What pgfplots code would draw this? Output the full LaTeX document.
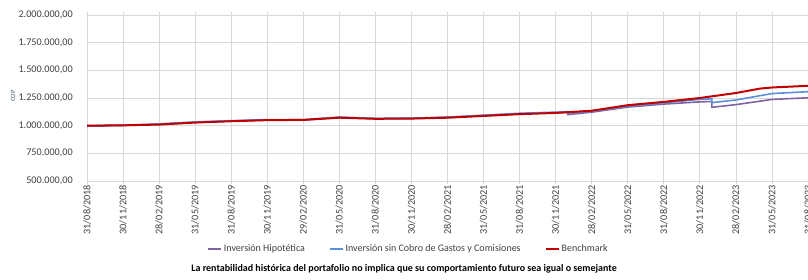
\documentclass[border=0pt]{standalone}
\usepackage{pgfplots}
\pgfplotsset{compat=1.18}
\usepackage{fontspec}
\setmainfont{Carlito}
\definecolor{cpurple}{HTML}{8064A2}
\definecolor{cblue}{HTML}{5B8FD9}
\definecolor{cred}{HTML}{C00000}
\definecolor{cgrid}{HTML}{D9D9D9}
\definecolor{ctick}{HTML}{404040}
\definecolor{ccop}{HTML}{44546A}
\begin{document}
\begin{tikzpicture}[x=1pt,y=1pt]
\useasboundingbox (0,0) rectangle (808,280);
\begin{axis}[
  at={(87pt,99pt)}, anchor=south west,
  width=721pt, height=166pt, scale only axis,
  xmin=0, xmax=60, ymin=500000, ymax=2000000,
  xtick={0,3,...,60},
  xticklabels={31/08/2018,30/11/2018,28/02/2019,31/05/2019,31/08/2019,30/11/2019,29/02/2020,31/05/2020,31/08/2020,30/11/2020,28/02/2021,31/05/2021,31/08/2021,30/11/2021,28/02/2022,31/05/2022,31/08/2022,30/11/2022,28/02/2023,31/05/2023,31/08/2023},
  ytick={500000,750000,...,2000000},
  scaled y ticks=false,
  /pgf/number format/fixed, /pgf/number format/fixed zerofill,
  /pgf/number format/precision=2, /pgf/number format/1000 sep={.},
  /pgf/number format/dec sep={,}, /pgf/number format/assume math mode=true,
  tick label style={font=\fontsize{10.2}{12}\selectfont, text=ctick},
  xticklabel style={rotate=90, anchor=east, inner sep=1pt},
  yticklabel style={inner sep=0pt, xshift=-11pt},
  grid=major, major grid style={draw=cgrid, line width=0.8pt},
  axis line style={draw=cgrid, line width=0.8pt},
  xtick style={draw=cgrid, line width=0.8pt},
  ytick style={draw=none},
  tick align=outside, major tick length=3pt,
  legend columns=3,
  legend style={at={(0.4459,-0.4096)}, anchor=center, draw=none, fill=none,
    font=\fontsize{10}{12}\selectfont, text=ctick,
    /tikz/every even column/.append style={column sep=22pt}},
  legend image code/.code={\draw[#1] (0pt,0pt) -- (13pt,0pt);},
  clip=true,
]
\addplot[cpurple, line width=1.6pt] coordinates {
(0,995000) (3,1002000) (6,1012000) (9,1030000) (12,1042000) (15,1051000) (18,1050000)
(21,1074000) (24,1063000) (27,1065000) (30,1074000) (33,1090000) (36,1107000) (39,1118000)
(40,1120000) (40,1100000) (42,1122000) (45,1168000) (48,1195000) (51,1215000) (52,1218000)
(52,1166000) (54,1190000) (57,1237000) (60,1252000)};
\addlegendentry{Inversión Hipotética}
\addplot[cblue, line width=1.6pt] coordinates {
(0,1000000) (3,1004000) (6,1016000) (9,1034000) (12,1045000) (15,1055000) (18,1054000)
(21,1078000) (24,1066000) (27,1068000) (30,1078000) (33,1095000) (36,1112000) (39,1122000)
(40,1125000) (40,1113000) (42,1130000) (45,1178000) (48,1206000) (51,1238000) (52,1242000)
(52,1208000) (54,1232000) (57,1290000) (60,1307000)};
\addlegendentry{Inversión sin Cobro de Gastos y Comisiones}
\addplot[cred, line width=2pt] coordinates {
(0,1000000) (3,1003000) (6,1010000) (9,1028000) (12,1040000) (15,1050000) (18,1052000)
(21,1072000) (24,1062000) (27,1064000) (30,1072000) (33,1088000) (36,1104000) (39,1115000)
(42,1135000) (45,1185000) (48,1215000) (51,1250000) (54,1295000) (56,1335000) (57,1345000)
(60,1360000)};
\addlegendentry{Benchmark}
\end{axis}
\node[rotate=90, font=\fontsize{6.5}{8}\selectfont, text=ccop] at (13,184) {COP};
\node[font=\fontsize{10}{12}\selectfont\bfseries] at (404,11) {La rentabilidad histórica del portafolio no implica que su comportamiento futuro sea igual o semejante};
\end{tikzpicture}
\end{document}
